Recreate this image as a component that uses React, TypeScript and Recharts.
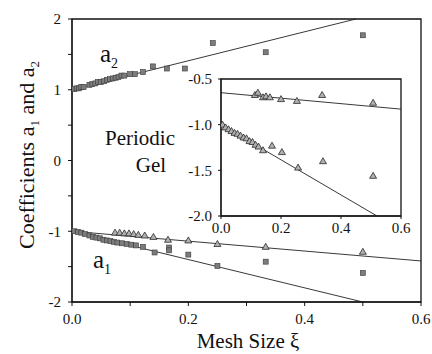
import {
  ComposedChart,
  Scatter,
  XAxis,
  YAxis,
  ReferenceLine,
  ReferenceArea,
} from "recharts";

// [mesh size ξ, coefficient]
const a2Periodic: [number, number][] = [
  [0.004, 1.01], [0.008, 1.02], [0.012, 1.02], [0.016, 1.04], [0.02, 1.04],
  [0.03, 1.07], [0.035, 1.08], [0.04, 1.09], [0.045, 1.11], [0.05, 1.11],
  [0.055, 1.12], [0.06, 1.14], [0.065, 1.15], [0.07, 1.16], [0.075, 1.17],
  [0.08, 1.18], [0.085, 1.2], [0.09, 1.2], [0.1, 1.22], [0.108, 1.22],
  [0.122, 1.25], [0.139, 1.33], [0.163, 1.3], [0.194, 1.3], [0.242, 1.66],
  [0.333, 1.53], [0.5, 1.77],
];
const a1Periodic: [number, number][] = [
  [0.004, -1.0], [0.01, -1.01], [0.016, -1.02], [0.022, -1.04], [0.03, -1.06],
  [0.036, -1.08], [0.042, -1.09], [0.048, -1.1], [0.054, -1.12], [0.06, -1.13],
  [0.066, -1.14], [0.072, -1.15], [0.078, -1.16], [0.086, -1.17], [0.094, -1.18],
  [0.102, -1.19], [0.11, -1.2], [0.122, -1.22], [0.142, -1.3], [0.167, -1.23],
  [0.167, -1.27], [0.2, -1.33], [0.25, -1.49], [0.333, -1.43], [0.5, -1.59],
];
const a1Random: [number, number][] = [
  [0.074, -1.02], [0.082, -1.02], [0.09, -1.03], [0.098, -1.03], [0.106, -1.04],
  [0.114, -1.05], [0.125, -1.06], [0.14, -1.08], [0.165, -1.12], [0.2, -1.13],
  [0.25, -1.18], [0.333, -1.22], [0.5, -1.29],
];

// random gel, shown in the inset
const insetA2: [number, number][] = [
  [0.113, -0.675], [0.123, -0.65], [0.14, -0.7], [0.15, -0.69], [0.163, -0.7],
  [0.2, -0.72], [0.253, -0.74], [0.337, -0.675], [0.507, -0.76],
];
const insetA1: [number, number][] = [
  [0.005, -1.0], [0.015, -1.03], [0.025, -1.05], [0.035, -1.07], [0.045, -1.09],
  [0.055, -1.1], [0.065, -1.12], [0.075, -1.14], [0.085, -1.15], [0.095, -1.18],
  [0.105, -1.19], [0.115, -1.22], [0.125, -1.24], [0.14, -1.28], [0.17, -1.23],
  [0.203, -1.3], [0.257, -1.47], [0.34, -1.4], [0.507, -1.56],
];

// fitted lines, [start, end]
const fitA2Periodic = [{ x: 0, y: 1.0 }, { x: 0.488, y: 2.0 }];
const fitA1Periodic = [{ x: 0, y: -1.0 }, { x: 0.5, y: -2.0 }];
const fitA1Random = [{ x: 0, y: -1.0 }, { x: 0.6, y: -1.42 }];
const fitInsetA2 = [{ x: 0, y: -0.65 }, { x: 0.6, y: -0.83 }];
const fitInsetA1 = [{ x: 0, y: -1.0 }, { x: 0.52, y: -2.0 }];

const mainXTicks = [0, 0.1, 0.2, 0.3, 0.4, 0.5, 0.6];
const mainYTicks = [-2, -1.5, -1, -0.5, 0, 0.5, 1, 1.5, 2];
const insetXTicks = [0, 0.2, 0.4, 0.6];
const insetYTicks = [-2, -1.5, -1, -0.5];

const FONT = "Liberation Serif";
const INK = "#111";

const toPts = (d: [number, number][]) => d.map(([x, y]) => ({ x, y }));

const Square = (p: any) => (
  <rect
    x={p.cx - 2.5}
    y={p.cy - 2.5}
    width={5}
    height={5}
    fill="#7c7c7c"
    stroke="#3a3a3a"
    strokeWidth={0.6}
  />
);

const Triangle = (p: any) => (
  <path
    d={`M${p.cx},${p.cy - 3.5} L${p.cx + 3.5},${p.cy + 2.5} L${p.cx - 3.5},${p.cy + 2.5} Z`}
    fill="#b0b0b0"
    stroke="#2a2a2a"
    strokeWidth={0.8}
  />
);

const tickStyle = { fontFamily: FONT, fontSize: 15, fill: INK };

export default function App() {
  return (
    <div
      style={{
        position: "absolute",
        left: 0,
        top: 0,
        width: 432,
        height: 354,
        background: "#fff",
      }}
    >
      <ComposedChart
        width={432}
        height={354}
        margin={{ top: 19, right: 11, left: 0, bottom: 0 }}
      >
        <XAxis
          type="number"
          dataKey="x"
          domain={[0, 0.6]}
          ticks={mainXTicks}
          tickFormatter={(v: number) =>
            Math.round(v * 10) % 2 === 0 ? v.toFixed(1) : ""
          }
          height={52}
          tickSize={4}
          tickMargin={7}
          stroke={INK}
          tick={tickStyle}
          allowDataOverflow
          label={{
            content: () => (
              <text x={248} y={348} textAnchor="middle" fontFamily={FONT} fontSize={21} fill={INK}>
                Mesh Size ξ
              </text>
            ),
          }}
        />
        <XAxis
          xAxisId="top"
          orientation="top"
          type="number"
          dataKey="x"
          domain={[0, 0.6]}
          ticks={mainXTicks}
          tickFormatter={() => ""}
          height={0}
          mirror
          tickSize={4}
          stroke={INK}
        />
        <YAxis
          type="number"
          dataKey="y"
          domain={[-2, 2]}
          ticks={mainYTicks}
          tickFormatter={(v: number) => (Number.isInteger(v) ? String(v) : "")}
          width={72}
          tickSize={4}
          tickMargin={7}
          stroke={INK}
          tick={tickStyle}
          allowDataOverflow
          label={{
            content: () => (
              <text
                x={34}
                y={155}
                transform="rotate(-90 34 155)"
                textAnchor="middle"
                fontFamily={FONT}
                fontSize={22}
                fill={INK}
              >
                Coefficients a
                <tspan fontSize={13} dy={5}>1</tspan>
                <tspan dy={-5}> and a</tspan>
                <tspan fontSize={13} dy={5}>2</tspan>
              </text>
            ),
          }}
        />
        <YAxis
          yAxisId="right"
          orientation="right"
          type="number"
          domain={[-2, 2]}
          ticks={mainYTicks}
          tickFormatter={() => ""}
          width={0}
          mirror
          tickSize={4}
          stroke={INK}
        />
        <ReferenceArea
          x1={0}
          x2={0.6}
          y1={-2}
          y2={2}
          fill="none"
          stroke={INK}
          strokeWidth={1.3}
        />
        <ReferenceLine segment={fitA2Periodic} stroke="#222" strokeWidth={0.9} />
        <ReferenceLine segment={fitA1Periodic} stroke="#222" strokeWidth={0.9} />
        <ReferenceLine segment={fitA1Random} stroke="#222" strokeWidth={0.9} />
        <Scatter data={toPts(a2Periodic)} shape={Square} isAnimationActive={false} />
        <Scatter data={toPts(a1Periodic)} shape={Square} isAnimationActive={false} />
        <Scatter data={toPts(a1Random)} shape={Triangle} isAnimationActive={false} />

        <text x={100} y={62} fontFamily={FONT} fontSize={25} fill={INK}>
          a<tspan fontSize={14} dy={6}>2</tspan>
        </text>
        <text x={93} y={268} fontFamily={FONT} fontSize={25} fill={INK}>
          a<tspan fontSize={14} dy={6}>1</tspan>
        </text>
        <text x={140} y={145} textAnchor="middle" fontFamily={FONT} fontSize={21} fill={INK}>
          Periodic
        </text>
        <text x={151} y={172} textAnchor="middle" fontFamily={FONT} fontSize={21} fill={INK}>
          Gel
        </text>
      </ComposedChart>

      {/* inset: random gel */}
      <div style={{ position: "absolute", left: 180, top: 70 }}>
        <ComposedChart
          width={235}
          height={175}
          margin={{ top: 9, right: 14, left: 0, bottom: 0 }}
        >
          <ReferenceArea
            x1={0}
            x2={0.6}
            y1={-2}
            y2={-0.5}
            fill="#fff"
            fillOpacity={1}
            stroke={INK}
            strokeWidth={1.3}
          />
          <XAxis
            type="number"
            dataKey="x"
            domain={[0, 0.6]}
            ticks={insetXTicks}
            tickFormatter={(v: number) => v.toFixed(1)}
            height={29}
            tickSize={3}
            tickMargin={3}
            stroke={INK}
            tick={tickStyle}
            allowDataOverflow
          />
          <YAxis
            type="number"
            dataKey="y"
            domain={[-2, -0.5]}
            ticks={insetYTicks}
            tickFormatter={(v: number) => v.toFixed(1)}
            width={41}
            tickSize={3}
            tickMargin={6}
            stroke={INK}
            tick={tickStyle}
            allowDataOverflow
          />
          <ReferenceLine segment={fitInsetA2} stroke="#222" strokeWidth={0.9} />
          <ReferenceLine segment={fitInsetA1} stroke="#222" strokeWidth={0.9} />
          <Scatter data={toPts(insetA2)} shape={Triangle} isAnimationActive={false} />
          <Scatter data={toPts(insetA1)} shape={Triangle} isAnimationActive={false} />

          <text x={127} y={53} fontFamily={FONT} fontSize={22} fill={INK}>
            a<tspan fontSize={13} dy={6}>2</tspan>
          </text>
          <text x={53} y={100} fontFamily={FONT} fontSize={22} fill={INK}>
            a<tspan fontSize={13} dy={6}>1</tspan>
          </text>
          <text x={126} y={84} fontFamily={FONT} fontSize={15} fill={INK}>
            Random Gel
          </text>
        </ComposedChart>
      </div>
    </div>
  );
}
